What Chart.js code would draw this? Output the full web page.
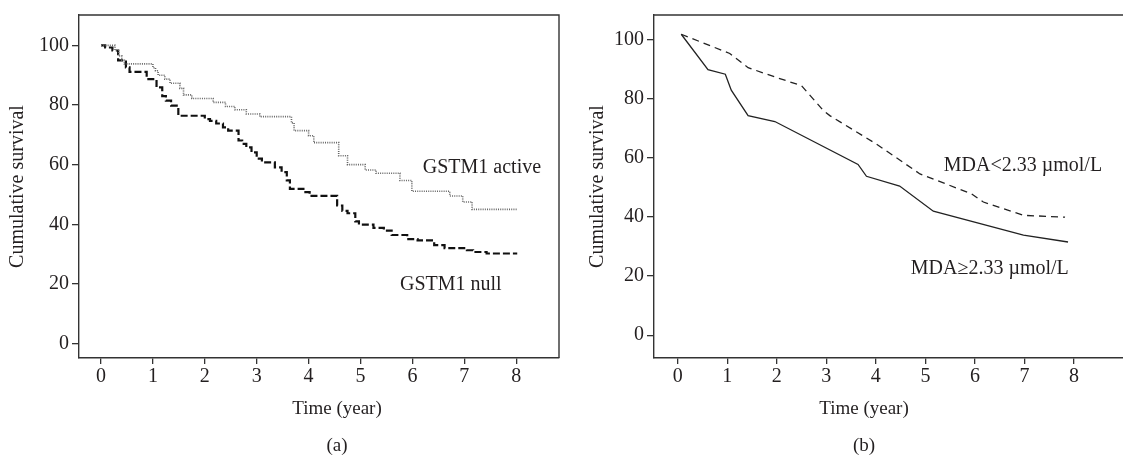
<!DOCTYPE html>
<html>
<head>
<meta charset="utf-8">
<script src="https://cdn.jsdelivr.net/npm/chart.js@4"></script>
<style>
  body { margin: 0; background: #fff; }
  #wrap { position: relative; width: 1123px; height: 457px; overflow: hidden; }
  canvas { position: absolute; top: 0; }
  #chartA { left: 0; }
  #chartB { left: 560px; }
</style>
</head>
<body>
<div id="wrap">
  <canvas id="chartA" width="561" height="457"></canvas>
  <canvas id="chartB" width="563" height="457"></canvas>
</div>
<script>
// (a) Kaplan-Meier curves by GSTM1 genotype
const activeTime = [0, 0.27, 0.34, 0.40, 0.45, 1.00, 1.05, 1.10, 1.23, 1.33, 1.52, 1.59, 1.75, 2.16, 2.40, 2.58, 2.80, 3.06, 3.67, 3.72, 4.00, 4.10, 4.58, 4.75, 5.09, 5.30, 5.76, 5.99, 6.72, 6.97, 7.15, 8.02];
const activeSurv = [100, 98.3, 96.5, 95.0, 93.8, 92.5, 91.5, 90.0, 88.7, 87.3, 85.6, 83.4, 82.2, 80.9, 79.5, 78.4, 77.0, 76.1, 74.0, 71.4, 69.7, 67.4, 63.0, 60.0, 58.2, 57.1, 54.7, 51.1, 49.5, 47.5, 45.0, 45.0];
const nullTime = [0, 0.08, 0.22, 0.33, 0.48, 0.55, 0.88, 1.07, 1.18, 1.25, 1.35, 1.49, 2.00, 2.10, 2.22, 2.35, 2.45, 2.65, 2.72, 2.80, 2.90, 3.00, 3.10, 3.35, 3.48, 3.58, 3.64, 3.90, 4.02, 4.55, 4.65, 4.75, 4.90, 4.97, 5.25, 5.45, 5.60, 5.90, 6.10, 6.42, 6.62, 7.05, 7.17, 7.43, 8.02];
const nullSurv = [100, 99.3, 98.3, 95.0, 92.6, 91.1, 88.7, 85.9, 83.0, 81.5, 79.8, 76.4, 75.3, 74.7, 73.8, 72.5, 71.4, 68.1, 67.0, 65.8, 64.1, 62.0, 60.8, 59.1, 57.5, 54.7, 51.9, 50.8, 49.5, 46.3, 44.5, 43.7, 41.0, 39.9, 38.8, 37.9, 36.4, 35.0, 34.6, 33.0, 32.0, 31.3, 30.7, 30.2, 30.2];

// (b) curves by MDA level
const lowMdaTime = [0.07, 1.05, 1.42, 1.99, 2.50, 2.94, 3.07, 4.01, 4.89, 5.93, 6.17, 6.98, 7.82];
const lowMdaSurv = [101.7, 95.2, 90.4, 87.1, 84.3, 75.9, 74.2, 64.6, 54.5, 47.8, 45.0, 40.5, 39.9];
const highMdaTime = [0.07, 0.61, 0.96, 1.08, 1.42, 1.96, 3.64, 3.81, 4.48, 5.16, 6.98, 7.88];
const highMdaSurv = [101.7, 89.7, 88.2, 82.8, 74.2, 72.2, 57.7, 53.7, 50.4, 41.9, 33.8, 31.5];

const xTicks = [0, 1, 2, 3, 4, 5, 6, 7, 8];
const yTicks = [0, 20, 40, 60, 80, 100];

const notesA = [
  { text: 'GSTM1 active', x: 7.34, y: 59.0 },
  { text: 'GSTM1 null', x: 6.74, y: 19.6 }
];
const notesB = [
  { text: 'MDA<2.33 \u00b5mol/L', x: 6.97, y: 57.3 },
  { text: 'MDA\u22652.33 \u00b5mol/L', x: 6.30, y: 22.3 }
];

const FONT = '"Liberation Serif", "DejaVu Serif", serif';
const INK = '#231f20';

function pairs(xs, ys) {
  return xs.map((x, i) => ({ x, y: ys[i] }));
}

const framePlugin = {
  id: 'frame',
  afterDraw(chart, args, opts) {
    const { ctx, chartArea: a, scales } = chart;
    ctx.save();
    ctx.strokeStyle = '#333';
    ctx.lineWidth = 1.4;
    ctx.beginPath();
    ctx.moveTo(a.left, a.top);
    ctx.lineTo(a.right, a.top);
    if (opts.right) {
      ctx.lineTo(a.right, a.bottom);
    }
    ctx.stroke();

    ctx.fillStyle = INK;
    ctx.font = '20px ' + FONT;
    ctx.textAlign = 'center';
    ctx.textBaseline = 'middle';
    opts.notes.forEach(n => {
      ctx.fillText(n.text, scales.x.getPixelForValue(n.x), scales.y.getPixelForValue(n.y));
    });
    ctx.font = '19px ' + FONT;
    ctx.fillText('Time (year)', opts.titleX, 409);
    ctx.fillText(opts.panel, opts.titleX, 446);
    ctx.font = '20px ' + FONT;
    ctx.translate(opts.yTitleX, (a.top + a.bottom) / 2);
    ctx.rotate(-Math.PI / 2);
    ctx.fillText('Cumulative survival', 0, 0);
    ctx.restore();
  }
};

function makePanel(id, datasets, opt) {
  return new Chart(document.getElementById(id), {
    type: 'line',
    data: { datasets },
    plugins: [framePlugin],
    options: {
      responsive: false,
      animation: false,
      layout: { padding: { top: 14, right: opt.padRight, left: 0, bottom: 0 } },
      plugins: {
        legend: { display: false },
        tooltip: { enabled: false },
        frame: opt.frame
      },
      elements: { point: { radius: 0 } },
      scales: {
        x: {
          type: 'linear',
          min: opt.xMin,
          max: opt.xMax,
          afterFit: s => { s.height = 99; },
          afterBuildTicks: s => { s.ticks = xTicks.map(v => ({ value: v })); },
          border: { color: '#333', width: 1.4 },
          grid: { drawOnChartArea: false, tickLength: 6, color: '#333', lineWidth: 1.3 },
          ticks: { font: { family: FONT, size: 20 }, color: INK, padding: 1 }
        },
        y: {
          type: 'linear',
          min: opt.yMin,
          max: opt.yMax,
          afterFit: s => { s.width = opt.yWidth; },
          afterBuildTicks: s => { s.ticks = yTicks.map(v => ({ value: v })); },
          border: { color: '#333', width: 1.4 },
          grid: { drawOnChartArea: false, tickLength: 7, color: '#333', lineWidth: 1.3 },
          ticks: { font: { family: FONT, size: 20 }, color: INK, padding: 3 }
        }
      }
    }
  });
}

makePanel('chartA', [
  {
    label: 'GSTM1 active',
    data: pairs(activeTime, activeSurv),
    stepped: 'before',
    borderColor: '#666',
    borderWidth: 1.6,
    borderDash: [1, 1.2]
  },
  {
    label: 'GSTM1 null',
    data: pairs(nullTime, nullSurv),
    stepped: 'before',
    borderColor: '#111',
    borderWidth: 2.2,
    borderDash: [7, 3]
  }
], {
  xMin: -0.424, xMax: 8.825, yMin: -4.85, yMax: 110.2,
  yWidth: 79, padRight: 2,
  frame: { right: true, notes: notesA, panel: '(a)', titleX: 337, yTitleX: 18 }
});

makePanel('chartB', [
  {
    label: 'MDA<2.33 \u00b5mol/L',
    data: pairs(lowMdaTime, lowMdaSurv),
    borderColor: '#222',
    borderWidth: 1.3,
    borderDash: [7, 5],
    tension: 0
  },
  {
    label: 'MDA\u22652.33 \u00b5mol/L',
    data: pairs(highMdaTime, highMdaSurv),
    borderColor: '#222',
    borderWidth: 1.3,
    tension: 0
  }
], {
  xMin: -0.48, xMax: 8.99, yMin: -7.7, yMax: 108.2,
  yWidth: 94, padRight: 0,
  frame: { right: false, notes: notesB, panel: '(b)', titleX: 304, yTitleX: 38 }
});
</script>
</body>
</html>
